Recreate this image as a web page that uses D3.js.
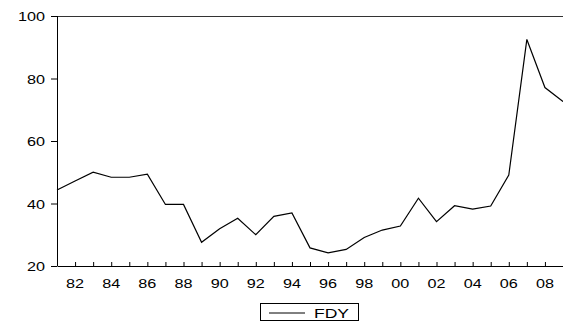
<!DOCTYPE html>
<html>
<head>
<meta charset="utf-8">
<script src="https://cdn.jsdelivr.net/npm/d3@7"></script>
<style>
body{margin:0;background:#fff;}
svg text{font-family:"Liberation Sans",Arial,sans-serif;font-size:13.5px;fill:#000;}
</style>
</head>
<body>
<svg id="chart" width="563" height="322"></svg>
<script>
let years = d3.range(1981, 2010);
let fdy = [44.3,47.2,50.0,48.4,48.4,49.4,39.7,39.7,27.6,31.9,35.3,30.0,35.9,37.0,25.8,24.2,25.3,29.1,31.5,32.8,41.7,34.2,39.3,38.2,39.2,49.1,92.5,77.1,72.6];
let yTicks = [20,40,60,80,100];
let xLabels = [1982,1984,1986,1988,1990,1992,1994,1996,1998,2000,2002,2004,2006,2008];

let margin = {top: 16, bottom: 56, left: 57, right: 0};
let svgWidth = 563, svgHeight = 322;
let width = svgWidth - margin.left - margin.right;
let height = svgHeight - margin.top - margin.bottom;

let xScale = d3.scaleLinear().domain([1981, 2009]).range([0, width]);
let yScale = d3.scaleLinear().domain([20, 100]).range([height, 0]);

let svg = d3.select('#chart').append('g')
    .attr('transform', `translate(${margin.left},${margin.top})`);

// top frame line
svg.append('line')
    .attr('x1', 0).attr('x2', width)
    .attr('y1', 0.5).attr('y2', 0.5)
    .attr('stroke', '#333').attr('stroke-width', 1);

// y axis
let yAxis = svg.append('g')
    .call(d3.axisLeft(yScale).tickValues(yTicks).tickSize(6).tickFormat(''));
yAxis.selectAll('path,line').attr('stroke', '#000');
yAxis.select('.domain').attr('d', `M0.5,${height}V0`);
svg.selectAll('.ylab')
    .data(yTicks)
    .enter()
    .append('text')
    .attr('text-anchor', 'end')
    .attr('transform', d => `translate(-12,${yScale(d) + 5}) scale(1.2,1)`)
    .text(d => d);

// x axis, ticks pointing inward
let xAxis = svg.append('g')
    .attr('transform', `translate(0,${height})`)
    .call(d3.axisTop(xScale).tickValues(years).tickSize(4).tickSizeOuter(0).tickFormat(''));
xAxis.selectAll('path,line').attr('stroke', '#000');
svg.selectAll('.xlab')
    .data(xLabels)
    .enter()
    .append('text')
    .attr('text-anchor', 'middle')
    .attr('transform', d => `translate(${xScale(d)},${height + 22}) scale(1.2,1)`)
    .text(d => String(d).slice(2));

// series line
let line = d3.line()
    .x((d, i) => xScale(years[i]))
    .y(d => yScale(d));
svg.append('path')
    .datum(fdy)
    .attr('fill', 'none')
    .attr('stroke', '#000')
    .attr('stroke-width', 1.2)
    .attr('d', line);

// legend
let legend = d3.select('#chart').append('g');
legend.append('rect')
    .attr('x', 260.5).attr('y', 303.5)
    .attr('width', 98).attr('height', 17)
    .attr('fill', 'none').attr('stroke', '#000');
legend.append('line')
    .attr('x1', 269).attr('x2', 305)
    .attr('y1', 313).attr('y2', 313)
    .attr('stroke', '#000');
legend.append('text')
    .attr('transform', 'translate(314,318) scale(1.3,1)')
    .text('FDY');
</script>
</body>
</html>
